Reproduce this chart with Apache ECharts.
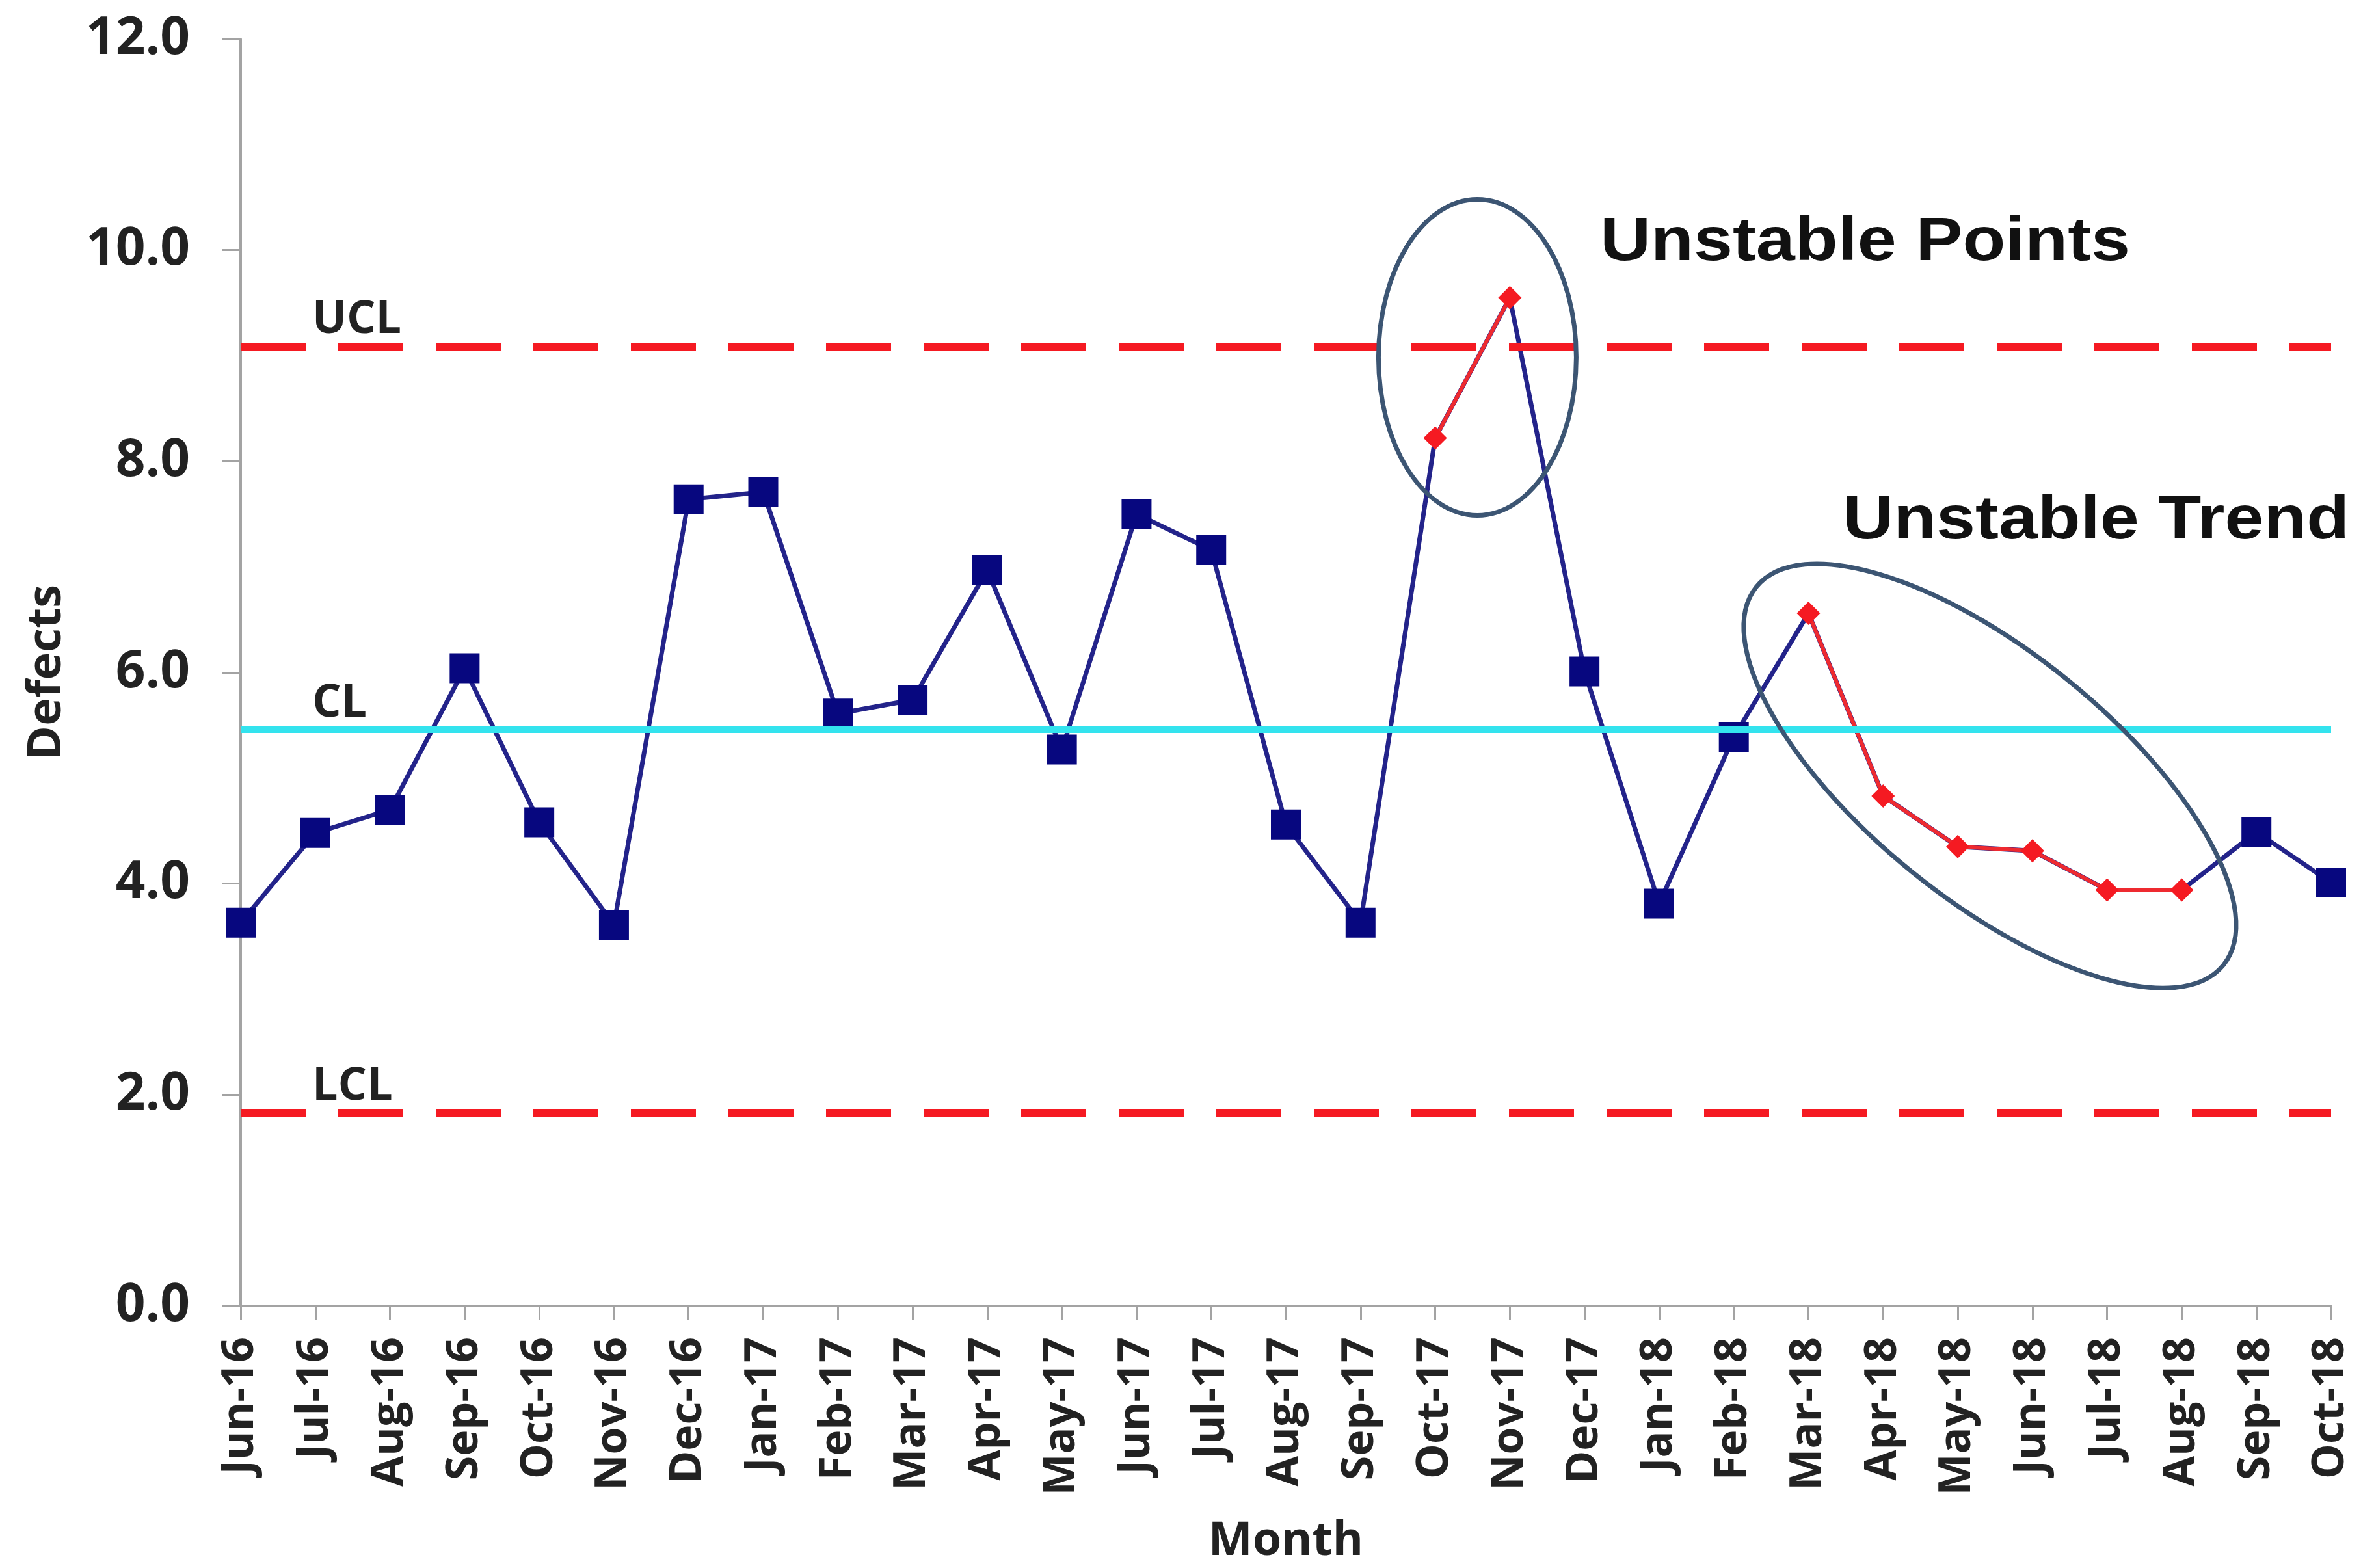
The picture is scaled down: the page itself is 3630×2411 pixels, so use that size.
<!DOCTYPE html>
<html>
<head>
<meta charset="utf-8">
<title>Defects control chart</title>
<script src="https://cdn.jsdelivr.net/npm/echarts@6/dist/echarts.min.js"></script>
<style>
  html, body { margin: 0; padding: 0; background: #ffffff; }
  #chart { width: 3630px; height: 2411px; }
</style>
</head>
<body>
<div id="chart"></div>
<script>
// Monthly defect counts, Jun-2016 through Oct-2018
const months = [
  'Jun-16', 'Jul-16', 'Aug-16', 'Sep-16', 'Oct-16', 'Nov-16', 'Dec-16',
  'Jan-17', 'Feb-17', 'Mar-17', 'Apr-17', 'May-17', 'Jun-17', 'Jul-17',
  'Aug-17', 'Sep-17', 'Oct-17', 'Nov-17', 'Dec-17',
  'Jan-18', 'Feb-18', 'Mar-18', 'Apr-18', 'May-18', 'Jun-18', 'Jul-18',
  'Aug-18', 'Sep-18', 'Oct-18'
];
const defects = [
  3.63, 4.48, 4.70, 6.04, 4.58, 3.61, 7.64,
  7.71, 5.61, 5.74, 6.97, 5.27, 7.50, 7.16,
  4.56, 3.63, 8.22, 9.55, 6.01,
  3.81, 5.39, 6.56, 4.83, 4.35, 4.31, 3.94,
  3.94, 4.49, 4.01
];
// Months flagged by the stability rules
const unstablePoints = ['Oct-17', 'Nov-17'];
const unstableTrend = ['Mar-18', 'Apr-18', 'May-18', 'Jun-18', 'Jul-18', 'Aug-18'];

// Control limits
const limitNames = ['UCL', 'CL', 'LCL'];
const limitValues = [9.09, 5.46, 1.83];

// Value axis range
const yMin = 0, yMax = 12, yStep = 2;

// Callout captions
const calloutTexts = ['Unstable Points', 'Unstable Trend'];

const flagged = new Set(unstablePoints.concat(unstableTrend));

const NAVY = '#07077f';
const NAVY_LINE = '#23238a';
const RED = '#f51a22';
const RED_LINE = '#ee2a30';
const CYAN = '#33e3ee';
const GREY = '#a3a3a3';
const INK = '#222222';
const RING = '#3c5573';
const LABEL_FONT = '"Open Sans", "Liberation Sans", sans-serif';

// Callout placement in axis units (fractional category index, value) plus ring radii in px
const calloutLayout = [
  { ring: [16.565, 8.985], rx: 152, ry: 243, angle: 0,   caption: [18.21, 10.07] },
  { ring: [23.43, 5.02],   rx: 462, ry: 190, angle: -39, caption: [21.46, 7.43] }
];

const chart = echarts.init(document.getElementById('chart'), null, { renderer: 'canvas' });

const limitLineStyle = (name) => name === 'CL'
  ? { color: CYAN, width: 11, type: 'solid', opacity: 1 }
  : { color: RED, width: 12, type: [100, 50], opacity: 1 };

const limitLabel = { color: INK, fontFamily: LABEL_FONT, fontWeight: 'bold', fontSize: 70 };

const markLineData = [];
limitNames.forEach((name, i) => {
  markLineData.push({
    yAxis: limitValues[i],
    lineStyle: limitLineStyle(name),
    label: Object.assign({ show: true, position: 'insideStartTop', formatter: name, distance: [110, 5] }, limitLabel)
  });
  markLineData.push({
    yAxis: limitValues[i],
    lineStyle: { opacity: 0 },
    label: Object.assign({ show: true, position: 'insideEndTop', formatter: limitValues[i].toFixed(2), distance: [14, 5] }, limitLabel)
  });
});

// Pixel position of a fractional category index on the x axis
function coordAt(api, pos) {
  const i0 = Math.floor(pos[0]);
  const f = pos[0] - i0;
  const a = api.coord([i0, pos[1]]);
  const b = api.coord([i0 + 1, pos[1]]);
  return [a[0] + (b[0] - a[0]) * f, a[1]];
}

chart.setOption({
  animation: false,
  backgroundColor: '#ffffff',
  grid: { left: 370, right: 46, top: 60, bottom: 400, containLabel: false },
  xAxis: {
    type: 'category',
    data: months,
    boundaryGap: false,
    name: 'Month',
    nameLocation: 'middle',
    nameGap: 326,
    nameTextStyle: { color: INK, fontFamily: LABEL_FONT, fontWeight: 'bold', fontSize: 72 },
    axisLine: { show: true, lineStyle: { color: GREY, width: 4 } },
    axisTick: { show: true, interval: 0, length: 22, lineStyle: { color: GREY, width: 3 } },
    axisLabel: {
      interval: 0, rotate: 90, margin: 48,
      color: INK, fontFamily: LABEL_FONT, fontWeight: 'bold', fontSize: 68
    },
    splitLine: { show: false }
  },
  yAxis: {
    type: 'value',
    min: yMin, max: yMax, interval: yStep,
    name: 'Defects',
    nameLocation: 'middle',
    nameGap: 262,
    nameTextStyle: { color: INK, fontFamily: LABEL_FONT, fontWeight: 'bold', fontSize: 72 },
    axisLine: { show: true, lineStyle: { color: GREY, width: 4 } },
    axisTick: { show: true, length: 28, lineStyle: { color: GREY, width: 3 } },
    axisLabel: {
      margin: 78,
      formatter: (v) => v.toFixed(1),
      color: INK, fontFamily: LABEL_FONT, fontWeight: 'bold', fontSize: 80
    },
    splitLine: { show: false }
  },
  series: [
    {
      name: 'Defects',
      type: 'line',
      z: 2,
      data: defects.map((v, i) => flagged.has(months[i]) ? { value: v, symbol: 'none' } : v),
      symbol: 'rect',
      symbolSize: 46,
      itemStyle: { color: NAVY },
      lineStyle: { color: NAVY_LINE, width: 7 }
    },
    {
      name: 'Unstable',
      type: 'line',
      z: 3,
      connectNulls: false,
      data: defects.map((v, i) => flagged.has(months[i]) ? v : '-'),
      symbol: 'diamond',
      symbolSize: 36,
      itemStyle: { color: RED },
      lineStyle: { color: RED_LINE, width: 6 }
    },
    {
      name: 'Limits',
      type: 'line',
      z: 4,
      data: [],
      markLine: {
        silent: true,
        symbol: ['none', 'none'],
        data: markLineData
      }
    },
    {
      name: 'Callouts',
      type: 'custom',
      z: 5,
      silent: true,
      data: calloutTexts.map((t, i) => [i]),
      renderItem: (params, api) => {
        const i = params.dataIndex;
        const lay = calloutLayout[i];
        const c = coordAt(api, lay.ring);
        const p = coordAt(api, lay.caption);
        return {
          type: 'group',
          children: [
            {
              type: 'ellipse',
              x: c[0], y: c[1],
              rotation: lay.angle * Math.PI / 180,
              shape: { cx: 0, cy: 0, rx: lay.rx, ry: lay.ry },
              style: { fill: 'none', stroke: RING, lineWidth: 7 }
            },
            {
              type: 'text',
              x: p[0], y: p[1],
              scaleX: 1.135,
              style: {
                text: calloutTexts[i],
                fill: '#111111',
                font: 'bold 95px "Liberation Sans", Arial, sans-serif',
                textAlign: 'left',
                textVerticalAlign: 'middle'
              }
            }
          ]
        };
      }
    }
  ]
});
</script>
</body>
</html>
